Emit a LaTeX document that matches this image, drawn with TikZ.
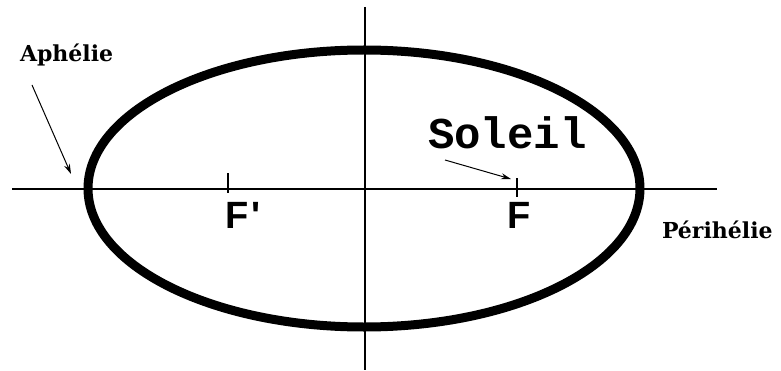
\documentclass[tikz,border=0pt]{standalone}
\usepackage{fontspec}
\setmainfont{Liberation Serif}
\newfontfamily\labelfont{DejaVu Serif}
\newfontfamily\soleilfont{Liberation Mono}
\newfontfamily\focusfont{Liberation Sans}
\usetikzlibrary{arrows.meta}
\begin{document}
\begin{tikzpicture}[x=1pt,y=1pt]
\definecolor{drawColor}{RGB}{0,0,0}
\tikzset{
  axisline/.style={draw=drawColor,line width=2.2pt},
  orbitline/.style={draw=drawColor,line width=9pt},
  focustick/.style={draw=drawColor,line width=1.2pt},
  pointer/.style={draw=drawColor,line width=1pt,-{Stealth[length=10pt,width=6pt]}},
  namelabel/.style={text=drawColor,anchor=base west,inner sep=0pt,outer sep=0pt,font=\labelfont\bfseries\fontsize{22}{26}\selectfont},
  focuslabel/.style={text=drawColor,anchor=base west,inner sep=0pt,outer sep=0pt,font=\focusfont\bfseries\fontsize{38}{42}\selectfont}
}
\path[use as bounding box,fill=white] (0,0) rectangle (781,370);

% axes
\coordinate (xl) at ( 12,181);
\coordinate (xr) at (717,181);
\coordinate (yt) at (365,363);
\coordinate (yb) at (365,  0);
\path[axisline] (xl) -- (xr);
\path[axisline] (yt) -- (yb);

% orbit
\coordinate (centre) at (364,181.5);
\path[orbitline] (centre) ellipse [x radius=276,y radius=138.5];

% foci
\coordinate (fpt) at (228,197);
\coordinate (fpb) at (228,177);
\coordinate (ft) at (517,192);
\coordinate (fb) at (517,173);
\path[focustick] (fpt) -- (fpb);
\path[focustick] (ft) -- (fb);
\node[focuslabel] (fprime) at (225,142) {F\kern3pt'};
\node[focuslabel] (focus) at (507,142) {F};

% labels
\node[text=drawColor,anchor=base west,inner sep=0pt,outer sep=0pt,font=\soleilfont\bfseries\fontsize{44}{48}\selectfont] (soleil) at (428,222) {Soleil};
\node[namelabel] (aphelie) at (20,308) {Aphélie};
\node[namelabel] (perihelie) at (662,132) {Périhélie};

% pointers
\coordinate (soleilfrom) at (445,210);
\coordinate (soleilto) at (511,191);
\coordinate (aphfrom) at (32,285);
\coordinate (aphto) at (71,196);
\path[pointer] (soleilfrom) -- (soleilto);
\path[pointer] (aphfrom) -- (aphto);
\end{tikzpicture}
\end{document}
